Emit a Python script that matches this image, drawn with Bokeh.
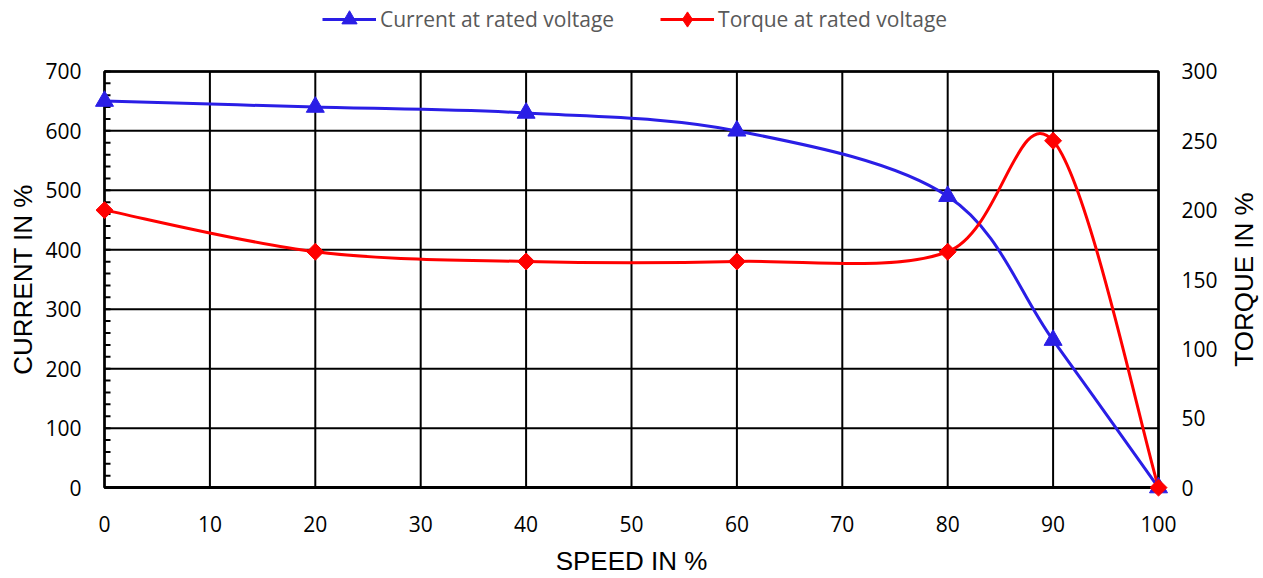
from bokeh.plotting import figure
from bokeh.layouts import column, row
from bokeh.models import Range1d, LinearAxis, Legend, LegendItem, FixedTicker, ColumnDataSource
from bokeh.core.properties import value
from bokeh.embed import file_html
from bokeh.resources import INLINE
import math

# ---- data ----
speed = [0, 20, 40, 60, 80, 90, 100]
current = [650, 640, 630, 600, 490, 248, 0]
torque = [200, 170, 163, 163, 170, 250, 0]

x_ticks = list(range(0, 101, 10))
current_ticks = list(range(0, 701, 100))
current_minor_ticks = list(range(0, 701, 20))
torque_ticks = list(range(0, 301, 50))

series_names = ["Current at rated voltage", "Torque at rated voltage"]
x_title = "SPEED IN %"
left_title = "CURRENT IN %"
right_title = "TORQUE IN %"

X_MIN, X_MAX = 0, 100
C_MIN, C_MAX = 0, 700
T_MIN, T_MAX = 0, 300

BLUE = "#2A1EE6"
RED = "#FF0000"
LW = 3


def smooth_segments(xs, ys):
    """Bezier control points (Catmull-Rom style, like spreadsheet smoothed lines)."""
    n = len(xs)
    d = dict(x0=[], y0=[], x1=[], y1=[], cx0=[], cy0=[], cx1=[], cy1=[])
    for i in range(n - 1):
        p0 = (xs[max(i - 1, 0)], ys[max(i - 1, 0)])
        p1 = (xs[i], ys[i])
        p2 = (xs[i + 1], ys[i + 1])
        p3 = (xs[min(i + 2, n - 1)], ys[min(i + 2, n - 1)])
        d["x0"].append(p1[0]); d["y0"].append(p1[1])
        d["x1"].append(p2[0]); d["y1"].append(p2[1])
        d["cx0"].append(p1[0] + (p2[0] - p0[0]) / 6.0)
        d["cy0"].append(p1[1] + (p2[1] - p0[1]) / 6.0)
        d["cx1"].append(p2[0] - (p3[0] - p1[0]) / 6.0)
        d["cy1"].append(p2[1] - (p3[1] - p1[1]) / 6.0)
    return ColumnDataSource(d)


# ---- layout (pixels) ----
W, H = 1263, 578
LH = 40                                           # legend strip height
SW = 40                                           # right title strip width
MW = W - SW                                       # main chart width
MH = H - LH                                       # main chart height
BOX_L, BOX_T, BOX_W, BOX_H = 104, 71 - LH, 1054, 421   # drawn chart box inside main figure
PAD = 10                                          # room so edge markers are not clipped
FL, FT = BOX_L - PAD, BOX_T - PAD
FW, FH = BOX_W + 2 * PAD, BOX_H + 2 * PAD
BR = MW - FL - FW
BB = MH - FT - FH

px = (X_MAX - X_MIN) * PAD / BOX_W
pc = (C_MAX - C_MIN) * PAD / BOX_H
pt = (T_MAX - T_MIN) * PAD / BOX_H

p = figure(width=MW, height=MH, output_backend="svg", toolbar_location=None,
           x_range=Range1d(X_MIN - px, X_MAX + px), y_range=Range1d(C_MIN - pc, C_MAX + pc),
           min_border_left=FL, min_border_right=BR, min_border_top=FT, min_border_bottom=BB)
p.extra_y_ranges = {"torque": Range1d(T_MIN - pt, T_MAX + pt)}

p.background_fill_color = "white"
p.border_fill_color = "white"
p.outline_line_color = None
p.xgrid.visible = False
p.ygrid.visible = False

TICK_FONT = "Open Sans"
TICK_SIZE = "21px"
TITLE_FONT = "Liberation Sans"
TITLE_SIZE = "26px"


def style_axis(ax, label, tick_standoff, label_standoff):
    ax.axis_label = label
    ax.axis_label_text_font = TITLE_FONT
    ax.axis_label_text_font_size = TITLE_SIZE
    ax.axis_label_text_font_style = "normal"
    ax.axis_label_text_color = "black"
    ax.axis_label_standoff = label_standoff
    ax.major_label_text_font = TICK_FONT
    ax.major_label_text_font_size = TICK_SIZE
    ax.major_label_text_color = "black"
    ax.major_label_standoff = tick_standoff
    ax.major_tick_in = 0
    ax.major_tick_out = 0
    ax.minor_tick_in = 0
    ax.minor_tick_out = 0
    ax.axis_line_color = None


xa = p.xaxis[0]
xa.ticker = FixedTicker(ticks=x_ticks)
style_axis(xa, x_title, 18, 11)

ya = p.yaxis[0]
ya.ticker = FixedTicker(ticks=current_ticks)
style_axis(ya, left_title, 13, 4)

ra = LinearAxis(y_range_name="torque", ticker=FixedTicker(ticks=torque_ticks))
style_axis(ra, None, 13, 0)
p.add_layout(ra, "right")

# grid lines (inside the chart box only)
p.segment(x0=x_ticks, y0=C_MIN, x1=x_ticks, y1=C_MAX, line_color="black", line_width=2)
p.segment(x0=X_MIN, y0=current_ticks, x1=X_MAX, y1=current_ticks, line_color="black", line_width=2)
# chart box
p.quad(left=[X_MIN], right=[X_MAX], bottom=[C_MIN], top=[C_MAX],
       fill_color=None, line_color="black", line_width=2.5)
p.segment(x0=[X_MIN], y0=[C_MIN], x1=[X_MAX], y1=[C_MIN], line_color="black", line_width=3)
# inward tick marks on the left axis
p.ray(x=X_MIN, y=current_minor_ticks, length=6, length_units="screen", angle=0,
      line_color="black", line_width=2)

# curves
cs = smooth_segments(speed, current)
ts = smooth_segments(speed, torque)
p.bezier(x0="x0", y0="y0", x1="x1", y1="y1", cx0="cx0", cy0="cy0", cx1="cx1", cy1="cy1",
         source=cs, line_color=BLUE, line_width=LW)
p.bezier(x0="x0", y0="y0", x1="x1", y1="y1", cx0="cx0", cy0="cy0", cx1="cx1", cy1="cy1",
         source=ts, line_color=RED, line_width=LW, y_range_name="torque")

p.scatter(speed, current, marker="triangle", size=18, fill_color=BLUE, line_color=BLUE)
p.scatter(speed, torque, marker="square", size=12, angle=math.pi / 4,
          fill_color=RED, line_color=RED, y_range_name="torque")

# ---- right title strip ----
side = figure(width=SW, height=MH, output_backend="svg", toolbar_location=None,
              x_axis_type=None, y_axis_type=None,
              x_range=Range1d(0, 1), y_range=Range1d(C_MIN - pc, C_MAX + pc),
              min_border_left=0, min_border_right=0, min_border_top=FT, min_border_bottom=BB)
side.outline_line_color = None
side.xgrid.visible = False
side.ygrid.visible = False
side.text(x=[0.5], y=[(C_MIN + C_MAX) / 2], text=[right_title], angle=math.pi / 2,
          text_font=value(TITLE_FONT), text_font_size=TITLE_SIZE, text_color="black",
          text_align="center", text_baseline="middle")

# ---- legend strip (separate figure above the chart; its series lie out of view) ----
lg = figure(width=W, height=LH, output_backend="svg", toolbar_location=None,
            x_axis_type=None, y_axis_type=None,
            x_range=Range1d(-20, -10), y_range=Range1d(-20, -10),
            min_border_left=FL, min_border_right=0, min_border_top=0, min_border_bottom=0)
lg.outline_line_color = None
lg.xgrid.visible = False
lg.ygrid.visible = False
c_line = lg.line(speed, current, line_color=BLUE, line_width=LW)
c_mark = lg.scatter(speed, current, marker="triangle", size=18, fill_color=BLUE, line_color=BLUE)
t_line = lg.line(speed, torque, line_color=RED, line_width=LW)
t_mark = lg.scatter(speed, torque, marker="diamond", size=18, fill_color=RED, line_color=RED)

LEG_H = 38
legend = Legend(items=[
    LegendItem(label=series_names[0], renderers=[c_line, c_mark]),
    LegendItem(label=series_names[1], renderers=[t_line, t_mark]),
], orientation="horizontal", location=(322 - FL, LH - LEG_H),
    label_text_font="Open Sans", label_text_font_size="21px", label_text_color="#595959",
    glyph_width=54, glyph_height=LEG_H, label_height=LEG_H, label_standoff=4, spacing=46,
    padding=0, margin=0, border_line_color=None, background_fill_alpha=0)
lg.add_layout(legend, "center")

layout = column(lg, row(p, side, spacing=0), spacing=0)
open("out.html", "w").write(file_html(layout, INLINE))
